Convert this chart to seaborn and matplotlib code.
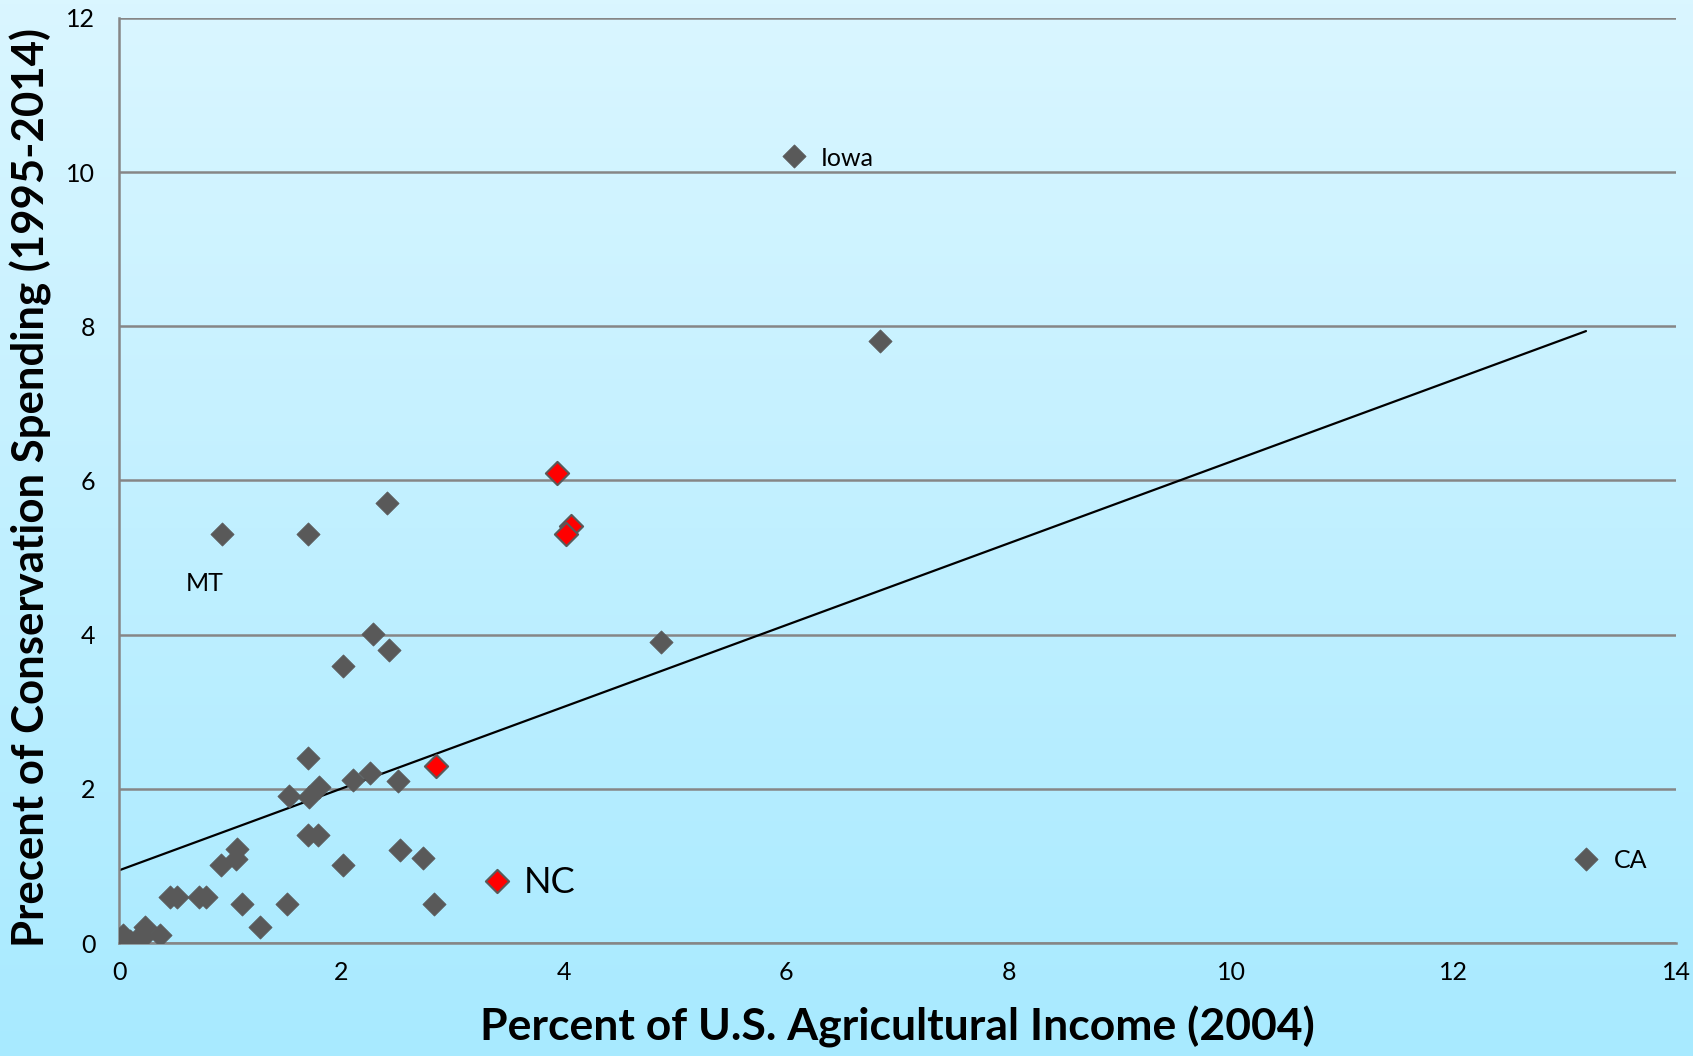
import numpy as np
import pandas as pd
import matplotlib
matplotlib.use("Agg")
import matplotlib.pyplot as plt
import seaborn as sns

# values (several small states sit on top of each other near 0)
ag_income_gray = [0.00, 0.04, 0.19, 0.23, 0.37, 0.46, 0.52, 0.72, 0.78, 0.92,
                  1.06, 1.05, 1.11, 1.27, 1.51, 1.53, 1.70, 1.71, 1.80, 1.70,
                  1.79, 2.01, 2.10, 2.26, 2.51, 2.53, 2.73, 2.83, 2.01, 2.43,
                  2.28, 0.93, 1.70, 2.41, 6.07, 6.84, 4.87, 13.19, 0.10, 0.21,
                  0.02, 0.05, 0.01, 0.03, 0.06]
conservation_gray = [0.00, 0.10, 0.09, 0.21, 0.10, 0.60, 0.60, 0.60, 0.60, 1.01,
                     1.22, 1.09, 0.50, 0.21, 0.50, 1.91, 2.40, 1.90, 2.02, 1.40,
                     1.40, 1.01, 2.12, 2.21, 2.10, 1.21, 1.10, 0.50, 3.59, 3.80,
                     4.01, 5.31, 5.31, 5.71, 10.21, 7.81, 3.90, 1.09, 0.02, 0.07,
                     0.02, 0.01, 0.04, 0.03, 0.02]
ag_income_red = [2.85, 3.40, 3.94, 4.06, 4.02]
conservation_red = [2.30, 0.80, 6.10, 5.41, 5.31]

labels = ["Iowa", "MT", "CA", "NC"]
label_x = [6.31, 0.60, 13.44, 3.64]
label_y = [10.18, 4.66, 1.07, 0.79]
label_size = [18, 18, 18, 26]

df = pd.DataFrame({
    "income": ag_income_gray + ag_income_red,
    "spending": conservation_gray + conservation_red,
    "group": ["other"] * len(ag_income_gray) + ["highlight"] * len(ag_income_red),
})

sns.set_style("white")
plt.rcParams["font.family"] = ["Lato", "DejaVu Sans"]
plt.rcParams["text.color"] = "black"
plt.rcParams["axes.labelcolor"] = "black"
plt.rcParams["xtick.labelcolor"] = "black"
plt.rcParams["ytick.labelcolor"] = "black"

fig = plt.figure(figsize=(16.93, 10.56), dpi=100)

# gradient background
bg = fig.add_axes([0, 0, 1, 1], zorder=-10)
top = np.array([218, 246, 255]) / 255
bottom = np.array([168, 234, 255]) / 255
t = np.linspace(0, 1, 256)[:, None]
grad = top[None, :] * (1 - t) + bottom[None, :] * t
bg.imshow(grad[:, None, :], aspect="auto", extent=[0, 1, 0, 1])
bg.axis("off")

ax = fig.add_axes([0.0703, 0.107, 0.9197, 0.876])
ax.set_facecolor("none")

# linear trend over all states
sns.regplot(data=df, x="income", y="spending", scatter=False, ci=None,
            line_kws={"color": "black", "lw": 1.6, "zorder": 2}, ax=ax)
sns.scatterplot(data=df[df.group == "other"], x="income", y="spending", marker="D",
                s=140, color="#595959", edgecolor="#595959", linewidth=0.5, zorder=3, ax=ax)
sns.scatterplot(data=df[df.group == "highlight"], x="income", y="spending", marker="D",
                s=140, color="#ff0000", edgecolor="#595959", linewidth=1.5, zorder=4, ax=ax)

for lab, lx, ly, fs in zip(labels, label_x, label_y, label_size):
    ax.text(lx, ly, lab, fontsize=fs, va="center", ha="left", color="black")

ax.set_xlim(0, 14)
ax.set_ylim(0, 12)
ax.set_xticks(range(0, 15, 2))
ax.set_yticks(range(0, 13, 2))
ax.yaxis.grid(True, color="#868686", lw=1.8)
ax.set_axisbelow(True)
for side in ["top", "right"]:
    ax.spines[side].set_visible(False)
for side in ["left", "bottom"]:
    ax.spines[side].set_color("#868686")
    ax.spines[side].set_linewidth(1.8)
ax.tick_params(axis="both", direction="out", length=7, width=1.8, color="#868686",
               labelsize=18, labelcolor="black", pad=6)
ax.tick_params(axis="y", pad=10)

ax.set_xlabel("Percent of U.S. Agricultural Income (2004)", fontsize=32,
              fontweight="bold", color="black")
ax.set_ylabel("Precent of Conservation Spending (1995-2014)", fontsize=31.5,
              fontweight="bold", color="black")
ax.xaxis.set_label_coords(0.5, -0.068)
ax.yaxis.set_label_coords(-0.043, 0.492)

fig.savefig("out.png", dpi=100)
